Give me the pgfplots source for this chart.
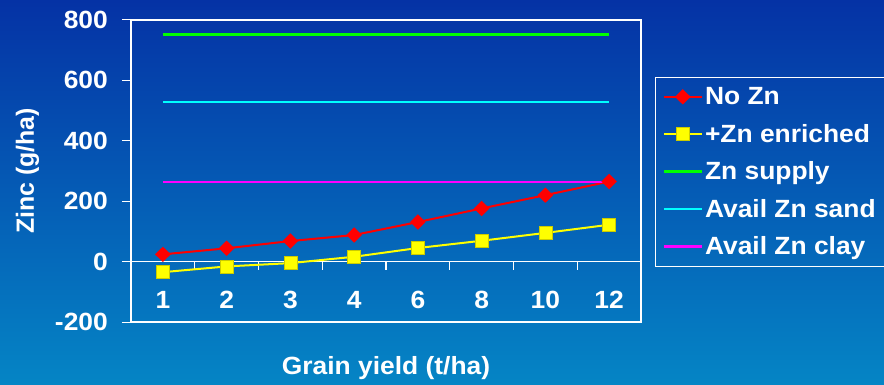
\documentclass[border=0pt]{standalone}
\usepackage{pgfplots}
\pgfplotsset{compat=1.18}
\usepackage{fontspec}
\setmainfont{Liberation Sans}[FakeStretch=1.06]
\newfontfamily\plainfont{Liberation Sans}
\definecolor{bgtop}{RGB}{5,50,165}
\definecolor{bgbot}{RGB}{5,133,197}
\definecolor{znred}{RGB}{255,0,0}
\definecolor{znyellow}{RGB}{255,255,0}
\definecolor{zngreen}{RGB}{0,255,0}
\definecolor{zncyan}{RGB}{0,255,255}
\definecolor{znmagenta}{RGB}{255,0,255}
\begin{document}
\begin{tikzpicture}
\clip (0,0) rectangle (884bp,385bp);
\shade[top color=bgtop, bottom color=bgbot] (0,0) rectangle (884bp,385bp);
\begin{axis}[
  at={(131bp,63bp)}, anchor=south west,
  scale only axis, width=510bp, height=302bp,
  xmin=-0.5, xmax=7.5, ymin=-200, ymax=800,
  xtick={0,...,7}, xticklabels={1,2,3,4,6,8,10,12},
  ytick={-200,0,200,400,600,800},
  yticklabels={-200,0,200,400,600,800},
  axis line style={white, line width=1.3bp},
  tick pos=left,
  xtick style={draw=none},
  ytick style={white, line width=1bp},
  tick align=outside, major tick length=9bp,
  font=\fontsize{25}{30}\selectfont\bfseries,
  tick label style={white},
  yticklabel style={anchor=east, inner sep=0pt, xshift=-14bp},
  xticklabel style={anchor=center, inner sep=0pt, yshift=31.5bp},
  xlabel={Grain yield (t/ha)},
  xlabel style={at={(rel axis cs:0.5,0)}, anchor=center, yshift=-46bp, white},
  ylabel={\plainfont Zinc (g/ha)},
  ylabel style={at={(rel axis cs:0,0.5)}, anchor=center, yshift=103.5bp, white},
  legend cell align=left,
  legend style={at={(rel axis cs:1.0275,0.8113)}, anchor=north west, fill=none,
    draw=white, line width=1bp, text=white, font=\fontsize{25}{30}\selectfont\bfseries,
    row sep=14bp, inner xsep=7bp, inner ysep=8bp},
  legend image code/.code={\draw[mark repeat=2, mark phase=2, #1] plot coordinates {(0bp,0bp) (19bp,0bp) (38bp,0bp)};},
]
\draw[white, line width=1.3bp] (axis cs:-0.5,0) -- (axis cs:7.5,0);
\pgfplotsinvokeforeach{0.5,1.5,2.5,3.5,4.5,5.5,6.5}{
  \draw[white, line width=1.2bp] (axis cs:#1,0) -- ([yshift=-8bp]axis cs:#1,0);
}
\addplot[znred, line width=2bp, mark=diamond*, mark size=6.3bp, mark options={fill=znred, xscale=1.35}]
  coordinates {(0,24) (1,44) (2,68) (3,88) (4,131) (5,176) (6,220) (7,265)};
\addlegendentry{No Zn}
\addplot[znyellow, line width=2bp, mark=square*, mark size=6.5bp, mark options={fill=znyellow, draw=znyellow!80!black, line width=0.6bp}]
  coordinates {(0,-35) (1,-16) (2,-5) (3,16) (4,45) (5,69) (6,95) (7,122)};
\addlegendentry{+Zn enriched}
\addplot[zngreen, line width=2.5bp]
  coordinates {(0,752) (1,752) (2,752) (3,752) (4,752) (5,752) (6,752) (7,752)};
\addlegendentry{Zn supply}
\addplot[zncyan, line width=2.5bp]
  coordinates {(0,528) (1,528) (2,528) (3,528) (4,528) (5,528) (6,528) (7,528)};
\addlegendentry{Avail Zn sand}
\addplot[znmagenta, line width=2.5bp]
  coordinates {(0,264) (1,264) (2,264) (3,264) (4,264) (5,264) (6,264) (7,264)};
\addlegendentry{Avail Zn clay}
\end{axis}
\end{tikzpicture}
\end{document}
